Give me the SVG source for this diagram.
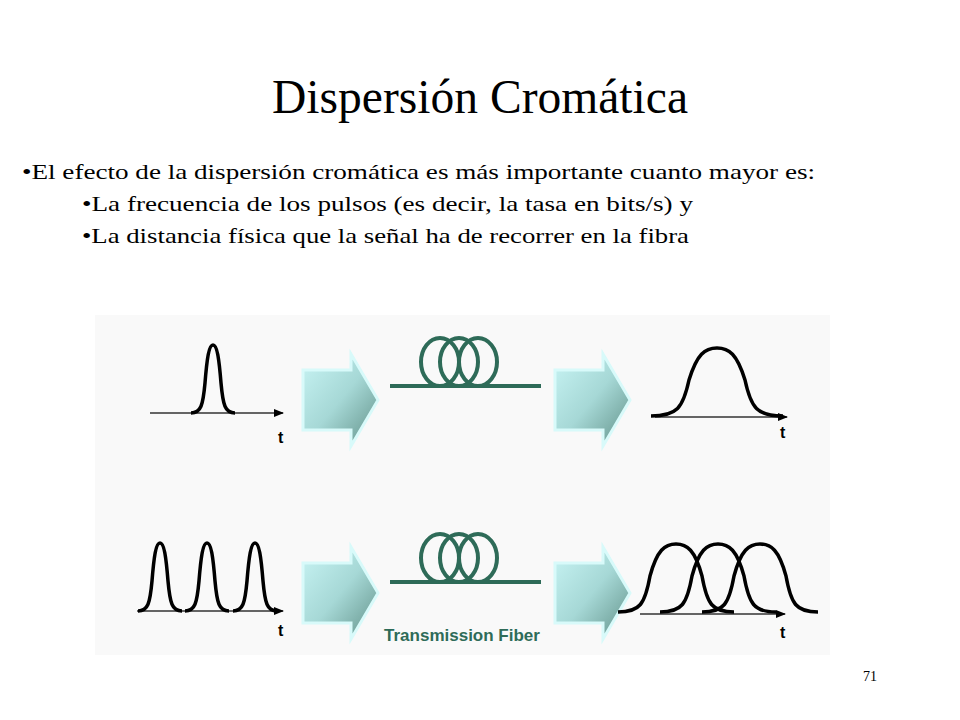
<svg xmlns="http://www.w3.org/2000/svg" width="960" height="720" viewBox="0 0 960 720">
<defs>
<linearGradient id="ag" x1="0" y1="0" x2="1" y2="1">
<stop offset="0" stop-color="#c8f4f4"/><stop offset="0.5" stop-color="#a6d8d6"/><stop offset="1" stop-color="#5f8f86"/>
</linearGradient>
<marker id="ah" markerWidth="10" markerHeight="8" refX="9" refY="4" orient="auto" markerUnits="userSpaceOnUse"><path d="M0,0 L10,4 L0,8 Z" fill="#000"/></marker>
<g id="blk"><path d="M0,8 L48,8 L48,-8 L75,38 L48,84 L48,68 L0,68 Z" fill="url(#ag)" stroke="#d8fafa" stroke-width="3"/></g>
<g id="coil" fill="none" stroke="#2e6b58" stroke-width="4"><ellipse cx="-19" cy="0" rx="19" ry="24"/><ellipse cx="0" cy="0" rx="19" ry="24"/><ellipse cx="19" cy="0" rx="19" ry="24"/></g>
<path id="np" d="M-22,0 C-12,0 -10,-8 -8,-30 C-6,-55 -4,-68 0,-68 C4,-68 6,-55 8,-30 C10,-8 12,0 22,0"/>
<path id="wp" d="M-66,0 C-40,0 -34,-8 -28,-36 C-20,-62 -12,-68 0,-68 C12,-68 20,-62 28,-36 C34,-8 40,0 66,0"/>
<path id="wp2" d="M-58,0 C-36,0 -31,-8 -26,-36 C-19,-62 -11,-68 0,-68 C11,-68 19,-62 26,-36 C31,-8 36,0 58,0"/>
</defs>
<style>
.ax{stroke:#333;stroke-width:1.5;fill:none}
.pl{stroke:#000;stroke-width:3.5;fill:none}
.t{font-family:"Liberation Sans",Arial,sans-serif;font-size:16px;font-weight:bold;fill:#000}
.tx{font-family:"Liberation Serif","Times New Roman",serif;font-size:22px;fill:#000}
</style>
<rect width="960" height="720" fill="#fff"/>
<text x="272" y="113" textLength="416" lengthAdjust="spacingAndGlyphs" style="font-family:'Liberation Serif',serif;font-size:48px">Dispersión Cromática</text>
<text class="tx" x="22" y="179" textLength="793" lengthAdjust="spacingAndGlyphs">•El efecto de la dispersión cromática es más importante cuanto mayor es:</text>
<text class="tx" x="82" y="211" textLength="611" lengthAdjust="spacingAndGlyphs">•La frecuencia de los pulsos (es decir,  la tasa en bits/s) y</text>
<text class="tx" x="82" y="243" textLength="607" lengthAdjust="spacingAndGlyphs">•La distancia física que la señal ha de recorrer en la fibra</text>
<rect x="95" y="315" width="735" height="340" fill="#f9f9f9"/>
<g id="connectors">
<line class="ax" x1="150" y1="413" x2="283" y2="413" marker-end="url(#ah)"/>
<line class="ax" x1="655" y1="417" x2="787" y2="417" marker-end="url(#ah)"/>
<line class="ax" x1="137" y1="611" x2="283" y2="611" marker-end="url(#ah)"/>
<line class="ax" x1="640" y1="614" x2="785" y2="614" marker-end="url(#ah)"/>
</g>
<g id="input1"><use href="#np" class="pl" x="213" y="413"/><text class="t" x="278" y="443">t</text></g>
<g id="arrow1"><use href="#blk" x="303" y="362"/></g>
<g id="fiber1"><use href="#coil" x="459" y="362"/><line x1="390" y1="386" x2="541" y2="386" stroke="#2e6b58" stroke-width="4"/></g>
<g id="arrow2"><use href="#blk" x="555" y="362"/></g>
<g id="output1"><use href="#wp" class="pl" x="717" y="416"/><text class="t" x="780" y="438">t</text></g>
<g id="input2"><use href="#np" class="pl" x="160" y="611"/><use href="#np" class="pl" x="207" y="611"/><use href="#np" class="pl" x="255" y="611"/><text class="t" x="278" y="636">t</text></g>
<g id="arrow3"><use href="#blk" x="303" y="555"/></g>
<g id="fiber2"><use href="#coil" x="459" y="558"/><line x1="390" y1="582" x2="541" y2="582" stroke="#2e6b58" stroke-width="4"/></g>
<g id="arrow4"><use href="#blk" x="555" y="555"/></g>
<g id="output2"><use href="#wp2" class="pl" x="676" y="612"/><use href="#wp2" class="pl" x="718" y="612"/><use href="#wp2" class="pl" x="760" y="612"/><text class="t" x="780" y="638">t</text></g>
<text x="462" y="641" text-anchor="middle" style="font-family:'Liberation Sans',Arial,sans-serif;font-size:17px;font-weight:bold;fill:#2e6b58">Transmission Fiber</text>
<text x="870" y="681" text-anchor="middle" style="font-family:'Liberation Serif',serif;font-size:14px">71</text>
</svg>
